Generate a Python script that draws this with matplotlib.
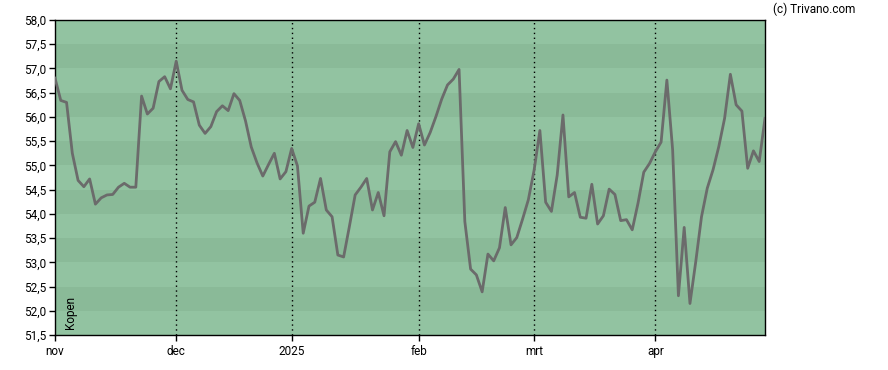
import matplotlib
matplotlib.use("Agg")
import matplotlib.pyplot as plt
import numpy as np

# Trading-day closing values (Nov 2024 - Apr 2025)
values = [
    56.80, 56.34, 56.30, 55.25, 54.69, 54.56, 54.72, 54.20, 54.33, 54.39,
    54.40, 54.55, 54.63, 54.55, 54.55, 56.43, 56.06, 56.18, 56.73, 56.83,
    56.58, 57.15, 56.55, 56.36, 56.31, 55.83, 55.66, 55.80, 56.11, 56.23,
    56.13, 56.48, 56.34, 55.92, 55.38, 55.05, 54.78, 55.02, 55.25, 54.72,
    54.87, 55.35, 54.99, 53.60, 54.16, 54.24, 54.73, 54.08, 53.94, 53.15,
    53.11, 53.74, 54.39, 54.55, 54.73, 54.08, 54.44, 53.96, 55.28, 55.49,
    55.21, 55.72, 55.37, 55.86, 55.42, 55.68, 56.01, 56.37, 56.66, 56.78,
    56.98, 53.84, 52.86, 52.74, 52.39, 53.17, 53.03, 53.30, 54.13, 53.36,
    53.51, 53.89, 54.29, 54.90, 55.72, 54.24, 54.05, 54.80, 56.04, 54.35,
    54.44, 53.93, 53.91, 54.61, 53.79, 53.96, 54.51, 54.40, 53.86, 53.88,
    53.67, 54.22, 54.86, 55.04, 55.28, 55.48, 56.76, 55.32, 52.31, 53.72,
    52.15, 53.01, 53.94, 54.53, 54.91, 55.39, 55.97, 56.88, 56.25, 56.12,
    54.94, 55.30, 55.08, 55.97,
]
month_labels = ["nov", "dec", "2025", "feb", "mrt", "apr"]
month_start_idx = [0, 21, 41, 63, 83, 104]

y_min, y_max, y_step = 51.5, 58.0, 0.5

plt.rcParams['font.family'] = ['Roboto', 'DejaVu Sans']

fig = plt.figure(figsize=(8.88, 3.70), dpi=100)
W, H = 888, 370
ax = fig.add_axes([55 / W, (H - 335) / H, (765 - 55) / W, (335 - 20) / H])

x = np.arange(len(values))
x_max = len(values) - 1

# Alternating background bands
light = "#92C3A1"
dark = "#8ABA98"
yt = np.arange(y_min, y_max + 1e-9, y_step)
for k, lo in enumerate(yt[:-1]):
    ax.axhspan(lo, lo + y_step, color=(light if k % 2 == 0 else dark), lw=0, zorder=0)

# Month separators
for idx in month_start_idx[1:]:
    ax.axvline(idx, color="black", lw=1.0, ls=(0, (1, 2.5)), zorder=1)

ax.plot(x, values, color="#6B6B6B", lw=2.0, zorder=3, solid_joinstyle="round")

ax.set_xlim(0, x_max)
ax.set_ylim(y_min, y_max)
ax.set_yticks(yt)
ax.set_yticklabels([f"{v:.1f}".replace(".", ",") for v in yt])
ax.set_xticks(month_start_idx)
ax.set_xticklabels(month_labels)
ax.tick_params(axis="both", labelsize=8.5, colors="black", length=4, width=1, direction="out")
ax.tick_params(axis="y", pad=2)
ax.tick_params(axis="x", pad=3)
for s in ax.spines.values():
    s.set_color("black")
    s.set_linewidth(1.0)

ax.text(0.012, 0.02, "Kopen", transform=ax.transAxes, rotation=90,
        ha="left", va="bottom", fontsize=8.5, color="black")
fig.text(773 / W, 1 - 9 / H, "(c) Trivano.com", ha="left", va="center",
         fontsize=8.5, color="black")

fig.savefig("out.png", dpi=100)
